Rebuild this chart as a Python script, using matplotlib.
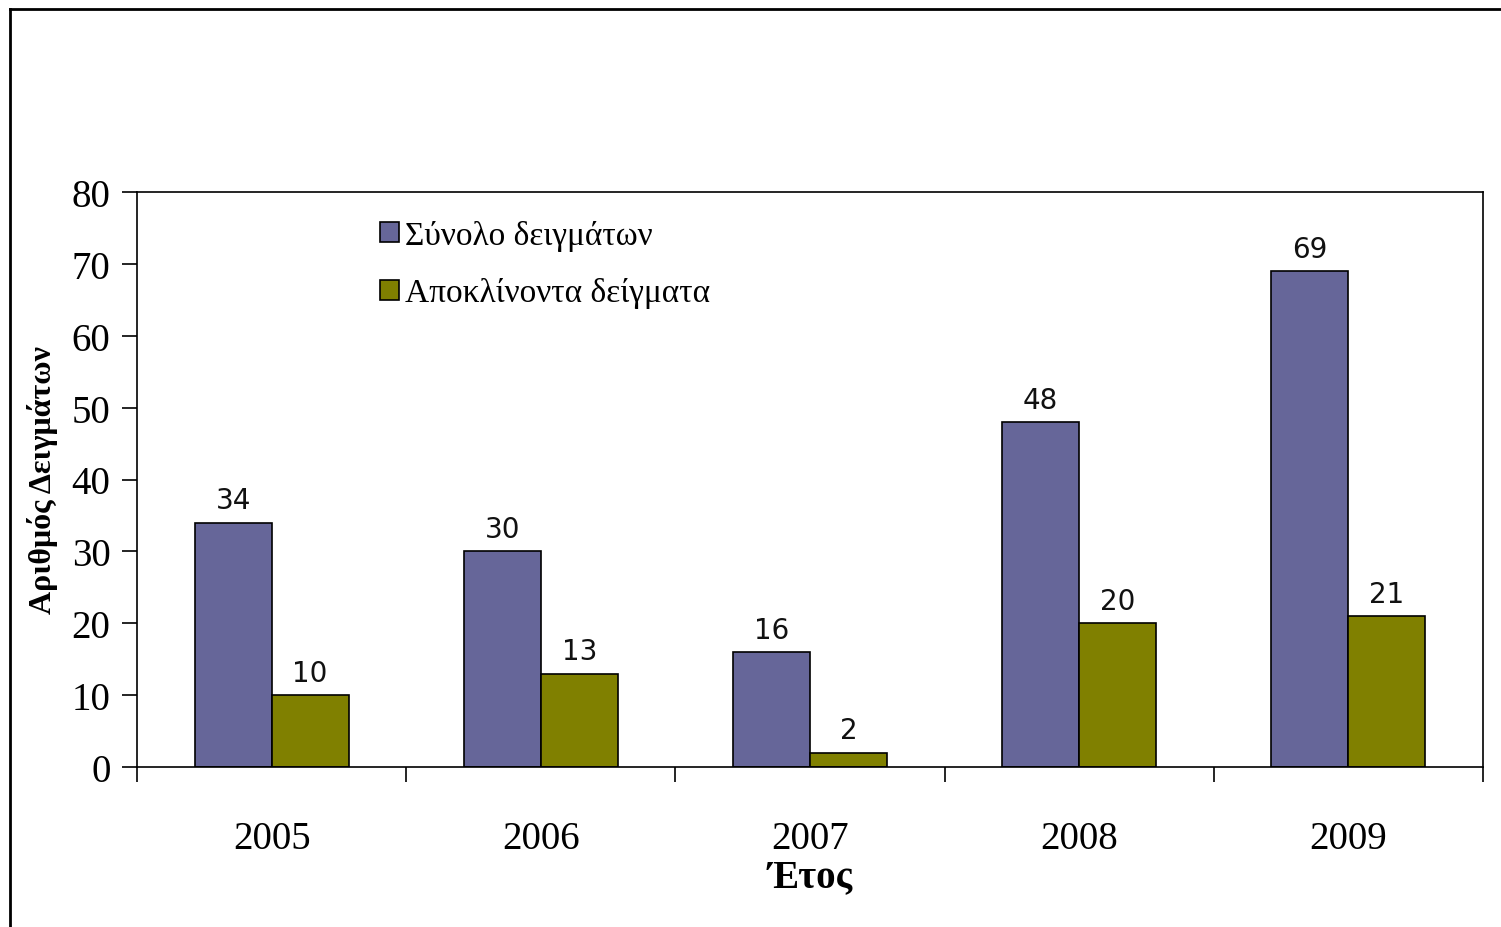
import numpy as np
import matplotlib
matplotlib.use('Agg')
from matplotlib import pyplot as plt
from matplotlib.lines import Line2D

years = ['2005', '2006', '2007', '2008', '2009']
total = [34, 30, 16, 48, 69]
deviating = [10, 13, 2, 20, 21]
series_names = ['Σύνολο δειγμάτων', 'Αποκλίνοντα δείγματα']
colors = ['#666699', '#808000']

serif = ['Liberation Serif', 'DejaVu Serif']

fig = plt.figure(figsize=(15.01, 9.28), dpi=100)
ax = fig.add_axes([137/1501, 1 - 768/928, (1483 - 137)/1501, (768 - 193)/928])

x = np.arange(len(years))
w = 0.286
b1 = ax.bar(x - w/2, total, w, color=colors[0], edgecolor='black', linewidth=1.2, label=series_names[0])
b2 = ax.bar(x + w/2, deviating, w, color=colors[1], edgecolor='black', linewidth=1.2, label=series_names[1])

# value labels above bars
for bars in (b1, b2):
    for r in bars:
        ax.annotate(str(int(r.get_height())), (r.get_x() + r.get_width()/2, r.get_height()),
                    xytext=(0, 6), textcoords='offset points', ha='center', va='bottom',
                    fontsize=20, family='DejaVu Sans', color='#111111')

ax.set_xlim(-0.5, len(years) - 0.5)
ax.set_ylim(0, 80)
ax.set_yticks(range(0, 81, 10))
ax.set_xticks(x)
ax.set_xticklabels(years)
ax.set_xticks(np.arange(-0.5, len(years), 1.0), minor=True)
ax.tick_params(axis='x', which='major', length=0, pad=38, labelsize=28)
ax.tick_params(axis='x', which='minor', length=11, width=1.2, direction='out')
ax.tick_params(axis='y', length=11, width=1.2, direction='out', pad=8, labelsize=28)
for lab in ax.get_xticklabels() + ax.get_yticklabels():
    lab.set_family(serif)

for s in ax.spines.values():
    s.set_linewidth(1.2)

ax.set_ylabel('Αριθμός Δειγμάτων', family=serif, fontsize=23, fontweight='bold', labelpad=10)
ax.set_xlabel('Έτος', family=serif, fontsize=28, fontweight='bold', labelpad=1)

leg = ax.legend(loc='upper left', bbox_to_anchor=(0.171, 0.975), frameon=False,
                prop={'family': serif, 'size': 24}, handlelength=0.55, handleheight=0.55,
                handletextpad=0.2, labelspacing=0.8, borderaxespad=0)

# outer frame (top and left edges)
fig.add_artist(Line2D([10/1501, 1.0], [1 - 10/928, 1 - 10/928], color='black', linewidth=2))
fig.add_artist(Line2D([10/1501, 10/1501], [0, 1 - 10/928], color='black', linewidth=2))

fig.savefig('out.png', dpi=100)
